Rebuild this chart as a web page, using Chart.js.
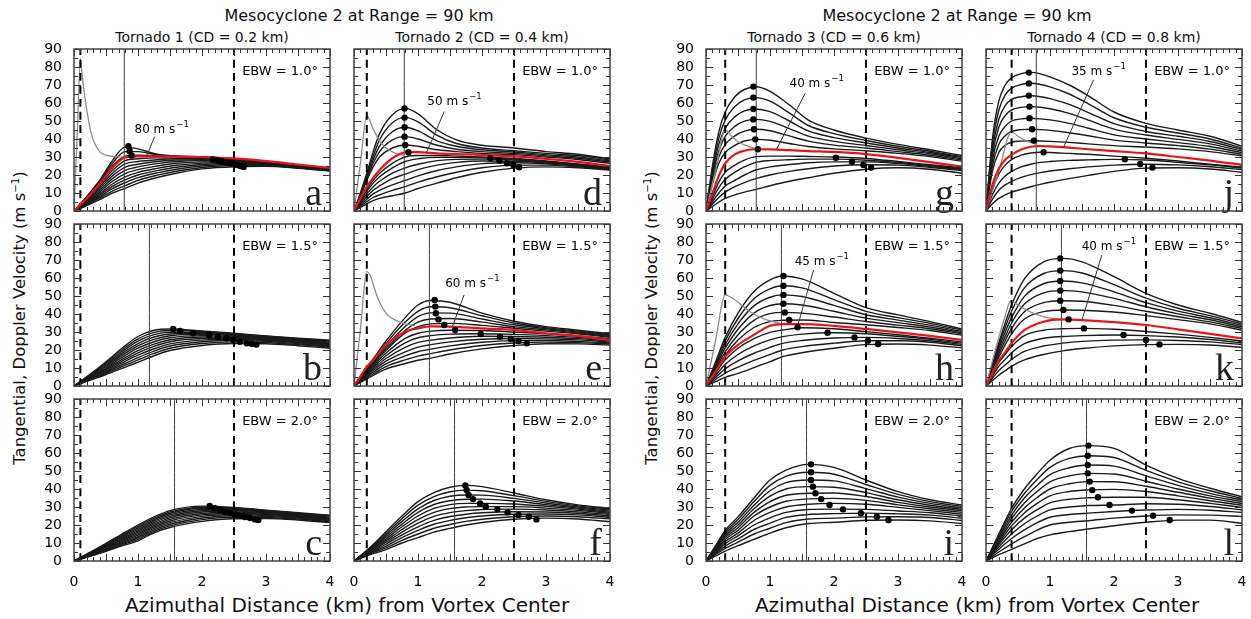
<!DOCTYPE html>
<html>
<head>
<meta charset="utf-8">
<title>Mesocyclone 2 at Range = 90 km</title>
<script src="https://cdn.jsdelivr.net/npm/chart.js@4.4.1/dist/chart.umd.min.js"></script>
<style>
  html, body { margin: 0; padding: 0; background: #fff; }
  #fig { position: relative; width: 1251px; height: 619px; overflow: hidden;
         font-family: 'DejaVu Sans', sans-serif; color: #111; }
  #fig canvas { position: absolute; }
  .t { position: absolute; white-space: nowrap; transform: translateX(-50%); }
  .main { font-size: 16px; line-height: 20px; top: 6px; }
  .sub { font-size: 14px; line-height: 16px; top: 29px; }
  .xlab { font-size: 20px; line-height: 22px; top: 594px; }
  .ylab { position: absolute; white-space: nowrap; font-size: 16.5px; line-height: 20px;
          transform: translate(-50%, -50%) rotate(-90deg); }
  sup { font-size: 0.62em; vertical-align: 0.55em; line-height: 0; }
</style>
</head>
<body>
<div id="fig">
  <div class="t main" style="left:359px">Mesocyclone 2 at Range = 90 km</div>
  <div class="t main" style="left:957px">Mesocyclone 2 at Range = 90 km</div>
  <div class="t sub" style="left:202px">Tornado 1 (CD = 0.2 km)</div>
  <div class="t sub" style="left:482px">Tornado 2 (CD = 0.4 km)</div>
  <div class="t sub" style="left:834px">Tornado 3 (CD = 0.6 km)</div>
  <div class="t sub" style="left:1114px">Tornado 4 (CD = 0.8 km)</div>
  <div class="t xlab" style="left:347px">Azimuthal Distance (km) from Vortex Center</div>
  <div class="t xlab" style="left:977px">Azimuthal Distance (km) from Vortex Center</div>
  <div class="ylab" style="left:20px;top:318px">Tangential, Doppler Velocity (m s<sup>−1</sup>)</div>
  <div class="ylab" style="left:652px;top:318px">Tangential, Doppler Velocity (m s<sup>−1</sup>)</div>
</div>

<script>
// ---------- axes / reference lines ----------
const xTicks = [0, 1, 2, 3, 4];
const yTicks = [0, 10, 20, 30, 40, 50, 60, 70, 80, 90];
const ebwLabels = ["EBW = 1.0°", "EBW = 1.5°", "EBW = 2.0°"];
const coreRadius = [0.1, 0.2, 0.3, 0.4];     // dashed line per tornado (CD / 2)
const mesoRadius = 2.5;                       // dashed line, mesocyclone core
const halfBeam = [0.785, 1.178, 1.571];       // solid line per beam width

// ---------- panel a : tornado 1, EBW 1.0 ----------
const xA = [0, 0.1, 0.2, 0.4, 0.6, 0.8, 1.0, 1.3, 1.6, 2.0, 2.5, 3.0, 3.5, 4.0];
const blackA = [
  [0, 4, 8, 17, 28, 35.5, 34.5, 31.5, 30.5, 30, 29, 27.5, 25.5, 23.5],
  [0, 4, 8, 16.5, 26.5, 33, 33, 31.3, 30.5, 30, 29, 27.5, 25.5, 23.5],
  [0, 3.5, 7.5, 16, 25, 30.5, 31, 30.8, 30.4, 30, 29, 27.5, 25.5, 23.5],
  [0, 3.3, 6.8, 14.5, 22.5, 28, 29, 29.5, 29.5, 29.5, 28.8, 27.5, 25.5, 23.5],
  [0, 3, 6.5, 13.5, 21, 26.2, 27.5, 28.5, 29, 29, 28.5, 27.3, 25.3, 23.3],
  [0, 2.8, 6, 12.5, 19.5, 24.4, 26, 27.5, 28.3, 28.5, 28.2, 27, 25.2, 23.2],
  [0, 2.6, 5.5, 11.5, 18, 22.6, 24.5, 26.3, 27.5, 28, 27.8, 26.8, 25, 23],
  [0, 2.4, 5, 10.5, 16.5, 20.8, 23, 25, 26.5, 27.3, 27.4, 26.6, 24.8, 23],
  [0, 2.2, 4.6, 9.5, 15, 19, 21.5, 23.7, 25.4, 26.6, 27, 26.3, 24.6, 22.8],
  [0, 2, 4.2, 8.7, 13.7, 17.3, 20, 22.4, 24.3, 25.8, 26.5, 26, 24.4, 22.7],
  [0, 1.8, 3.8, 7.9, 12.4, 15.7, 18.5, 21.2, 23.2, 25, 26, 25.7, 24.2, 22.5],
  [0, 1.6, 3.4, 7.1, 11.1, 14.1, 17, 19.9, 22.1, 24.2, 25.3, 25.3, 24, 22.4],
  [0, 1.4, 3, 6.3, 9.9, 12.6, 15.5, 18.6, 21, 23.4, 24.6, 24.8, 23.7, 22.2]
];
const redA = [0, 3.5, 7, 15, 24, 29.8, 30.3, 30.3, 30.2, 30, 29.2, 27.7, 25.8, 24];
const grayXA = [0, 0.05, 0.1, 0.13, 0.16, 0.2, 0.25, 0.3, 0.4, 0.5, 0.65, 0.8];
const grayA = [0, 42, 84.5, 75, 66, 56, 46, 39.5, 33, 31, 30.2, 30];
const dotXA = [0.85, 0.87, 0.9, 2.17, 2.25, 2.32, 2.39, 2.45, 2.5, 2.55, 2.6, 2.65];
const dotYA = [36, 33.3, 30.8, 28.7, 28.1, 27.5, 27, 26.5, 26, 25.5, 25, 24.5];

// ---------- panel b : tornado 1, EBW 1.5 ----------
const xB = [0, 0.25, 0.5, 0.75, 1.0, 1.25, 1.5, 2.0, 2.5, 3.0, 3.5, 4.0];
const blackB = [
  [0, 6.5, 13.5, 21, 27.5, 31, 31.7, 30.6, 29.3, 27.8, 26.5, 25.5],
  [0, 6.2, 12.8, 20, 26.2, 29.8, 30.8, 30.2, 29, 27.6, 26.3, 25.2],
  [0, 5.9, 12.1, 19, 24.9, 28.5, 29.9, 29.8, 28.7, 27.4, 26, 24.8],
  [0, 5.6, 11.4, 18, 23.6, 27.2, 28.9, 29.3, 28.4, 27.1, 25.7, 24.4],
  [0, 5.3, 10.7, 17, 22.3, 25.9, 27.9, 28.7, 28, 26.8, 25.4, 24],
  [0, 5, 10, 15.9, 21, 24.6, 26.8, 28, 27.6, 26.5, 25.1, 23.6],
  [0, 4.7, 9.4, 14.8, 19.7, 23.3, 25.7, 27.2, 27.1, 26.1, 24.8, 23.2],
  [0, 4.4, 8.8, 13.8, 18.4, 22, 24.6, 26.4, 26.6, 25.7, 24.4, 22.8],
  [0, 4.1, 8.2, 12.8, 17.1, 20.7, 23.4, 25.5, 26, 25.3, 24, 22.4],
  [0, 3.8, 7.6, 11.8, 15.8, 19.4, 22.2, 24.6, 25.3, 24.8, 23.5, 22],
  [0, 3.5, 7, 10.8, 14.5, 18.1, 21, 23.6, 24.5, 24.2, 23, 21.5],
  [0, 3.2, 6.4, 9.8, 13.2, 16.8, 19.7, 22.5, 23.6, 23.5, 22.4, 21]
];
const dotXB = [1.55, 1.66, 1.86, 2.11, 2.25, 2.38, 2.49, 2.59, 2.7, 2.78, 2.85];
const dotYB = [31.7, 30.6, 29.3, 28.3, 27.4, 26.5, 25.6, 24.6, 23.7, 23.3, 23];

// ---------- panel c : tornado 1, EBW 2.0 ----------
const xC = [0, 0.25, 0.5, 0.75, 1.0, 1.25, 1.5, 2.0, 2.5, 3.0, 3.5, 4.0];
const blackC = [
  [0, 4.8, 9.8, 15, 20, 24.5, 28, 30.5, 29.8, 28.2, 26.8, 25.5],
  [0, 4.6, 9.4, 14.4, 19.2, 23.7, 27.2, 29.9, 29.5, 28, 26.6, 25.2],
  [0, 4.4, 9, 13.8, 18.4, 22.9, 26.4, 29.3, 29.1, 27.7, 26.3, 24.9],
  [0, 4.2, 8.6, 13.2, 17.6, 22.1, 25.6, 28.6, 28.7, 27.4, 26, 24.6],
  [0, 4, 8.2, 12.6, 16.8, 21.3, 24.8, 27.9, 28.2, 27.1, 25.7, 24.3],
  [0, 3.8, 7.8, 12, 16, 20.5, 24, 27.2, 27.7, 26.7, 25.4, 23.9],
  [0, 3.6, 7.4, 11.4, 15.2, 19.7, 23.1, 26.4, 27.1, 26.3, 25, 23.5],
  [0, 3.4, 7, 10.8, 14.4, 18.9, 22.2, 25.6, 26.5, 25.8, 24.6, 23.1],
  [0, 3.2, 6.6, 10.2, 13.6, 18.1, 21.3, 24.8, 25.8, 25.3, 24.2, 22.7],
  [0, 3, 6.2, 9.6, 12.8, 17.3, 20.4, 23.9, 25.1, 24.8, 23.8, 22.3],
  [0, 2.8, 5.8, 9, 12, 16.5, 19.5, 23, 24.3, 24.2, 23.3, 21.8],
  [0, 2.6, 5.4, 8.4, 11.2, 15.7, 18.6, 22, 23.5, 23.6, 22.8, 21.3]
];
const dotXC = [2.12, 2.2, 2.28, 2.36, 2.44, 2.51, 2.59, 2.67, 2.75, 2.83, 2.88];
const dotYC = [30.6, 29.3, 28.3, 27.4, 26.7, 25.9, 25.2, 24.4, 23.9, 23.1, 22.8];

// ---------- panel d : tornado 2, EBW 1.0 ----------
const xD = [0, 0.1, 0.2, 0.3, 0.4, 0.6, 0.8, 1.0, 1.3, 1.6, 2.0, 2.5, 3.0, 3.5, 4.0];
const blackD = [
  [0, 10, 21, 33, 43, 53.5, 57, 54, 45, 39.5, 36.5, 35, 33, 31.5, 29],
  [0, 9.5, 20, 30.5, 39.5, 49, 52, 49.5, 42, 37.5, 35, 33.5, 32, 30.8, 28.4],
  [0, 9, 19, 28.5, 36, 44, 46.5, 44.5, 39, 36, 34, 32.8, 31.3, 30, 27.8],
  [0, 8.5, 18, 26.5, 33, 39.5, 41.3, 40, 36.5, 34.3, 33, 32, 30.6, 29.3, 27.2],
  [0, 8, 17, 24.5, 30, 35, 36.7, 36, 34, 33, 32, 31.3, 30, 28.6, 26.5],
  [0, 6.3, 12.2, 17, 21, 26.5, 30, 30.8, 30.8, 30.5, 30, 29.2, 27.8, 26.2, 24.5],
  [0, 5.5, 11, 15.5, 19, 24, 27.5, 29, 29.8, 29.8, 29.5, 28.8, 27.5, 25.9, 24.2],
  [0, 4.8, 9.5, 13.5, 16.5, 21, 24, 26, 28, 28.7, 28.8, 28.3, 27.2, 25.6, 23.8],
  [0, 4, 8, 11.5, 14, 18, 20.5, 23, 25.5, 27, 27.8, 27.6, 26.7, 25.3, 23.5],
  [0, 3.3, 6.5, 9.5, 11.5, 14.5, 17, 19.5, 22.5, 24.5, 26.3, 26.8, 26.2, 25, 23.2],
  [0, 2.6, 5.2, 7.5, 9, 11.5, 13.5, 16, 19, 21.5, 24, 25.5, 25.5, 24.5, 23],
  [0, 2, 4, 5.8, 7, 8.5, 10, 12.5, 15.5, 18.5, 21.5, 23.8, 24.5, 24, 22.8]
];
const redD = [0, 7, 13.5, 18.5, 22.8, 29.3, 32.6, 32.7, 32, 31.6, 31.2, 30.3, 29, 27.3, 25];
const grayXD = [0, 0.1, 0.2, 0.25, 0.3, 0.4, 0.5, 0.65, 0.8];
const grayD = [0, 26.5, 53, 50, 45.5, 39, 35, 32, 30.8];
const dotXD = [0.79, 0.79, 0.79, 0.79, 0.8, 0.85, 2.13, 2.27, 2.39, 2.49, 2.58];
const dotYD = [57, 51.9, 46.5, 41.3, 36.7, 32.6, 29.3, 28, 26.5, 25.6, 24.3];

// ---------- panel e : tornado 2, EBW 1.5 ----------
const xE = [0, 0.1, 0.2, 0.3, 0.5, 0.8, 1.0, 1.2, 1.5, 2.0, 2.5, 3.0, 3.5, 4.0];
const blackE = [
  [0, 5, 10, 15, 25, 38, 45, 47.5, 46.5, 40.5, 36, 33, 31, 29],
  [0, 4.7, 9.5, 14.2, 23.5, 35.5, 41.5, 44, 43.5, 39, 35, 32.4, 30.5, 28.5],
  [0, 4.5, 9, 13.5, 22, 33, 38.5, 40.6, 40.5, 37.2, 34, 31.8, 30, 28],
  [0, 4.3, 8.6, 12.8, 20.8, 31, 35.5, 37.2, 37.5, 35.5, 33, 31.2, 29.5, 27.5],
  [0, 4.1, 8.2, 12.2, 19.8, 29.5, 33, 34.5, 34.8, 33.7, 32.1, 30.5, 29, 27],
  [0, 3.8, 7.6, 11.3, 18.3, 26.5, 29.3, 30.5, 31, 30.8, 30, 29, 27.8, 26.3],
  [0, 3.5, 7, 10.4, 16.8, 24, 26.8, 28, 28.8, 29, 28.7, 28, 27, 25.7],
  [0, 3.2, 6.4, 9.5, 15.3, 21.5, 24.2, 25.5, 26.7, 27.6, 27.5, 27.1, 26.3, 25.1],
  [0, 2.9, 5.8, 8.6, 13.8, 19, 21.6, 23, 24.5, 26, 26.4, 26.2, 25.6, 24.5],
  [0, 2.6, 5.2, 7.7, 12.3, 16.7, 19, 20.5, 22.3, 24.3, 25.2, 25.3, 24.8, 23.9],
  [0, 2.3, 4.6, 6.8, 10.8, 14.5, 16.6, 18, 20, 22.5, 23.9, 24.4, 24.1, 23.3],
  [0, 2, 4, 5.9, 9.4, 12.5, 14.3, 15.5, 17.8, 20.6, 22.5, 23.5, 23.4, 22.7]
];
const redE = [0, 5.3, 10.7, 14.5, 22.8, 30.2, 32, 33.1, 33, 32, 31.1, 29.3, 27.8, 25.6];
const grayXE = [0, 0.1, 0.2, 0.27, 0.32, 0.4, 0.5, 0.6, 0.75, 0.95];
const grayE = [0, 31.5, 63.5, 60, 54, 46.5, 40.5, 37.5, 35, 33.5];
const dotXE = [1.26, 1.27, 1.28, 1.32, 1.41, 1.58, 1.98, 2.28, 2.45, 2.57, 2.7];
const dotYE = [47.8, 44.1, 40.4, 37, 33.9, 31.1, 28.9, 27.4, 26.1, 25, 23.7];

// ---------- panel f : tornado 2, EBW 2.0 ----------
const xF = [0, 0.25, 0.5, 0.75, 1.0, 1.25, 1.5, 1.75, 2.0, 2.5, 3.0, 3.5, 4.0];
const blackF = [
  [0, 7.5, 16.3, 25, 33, 38, 41, 42, 41.3, 37.8, 34, 31.2, 29.3],
  [0, 7.1, 15.3, 23.5, 31, 35.8, 38.5, 39.4, 39, 36.3, 33.1, 30.6, 28.8],
  [0, 6.7, 14.3, 22, 29, 33.6, 36, 36.7, 36.6, 34.8, 32.2, 30, 28.3],
  [0, 6.3, 13.3, 20.5, 27, 31.4, 33.5, 34.3, 34.4, 33.3, 31.3, 29.4, 27.7],
  [0, 5.9, 12.3, 19, 25, 29.2, 31.3, 32, 32, 31.7, 30.4, 28.8, 27.1],
  [0, 5.5, 11.3, 17.5, 23, 27, 29.1, 30, 30.2, 30.2, 29.4, 28.1, 26.5],
  [0, 5.1, 10.3, 16, 21, 24.8, 26.9, 28, 28.6, 28.8, 28.3, 27.3, 25.8],
  [0, 4.7, 9.3, 14.5, 19, 22.6, 24.7, 26, 26.8, 27.4, 27.2, 26.5, 25],
  [0, 4.3, 8.3, 13, 17, 20.4, 22.5, 24, 25, 26, 26.1, 25.6, 24.2],
  [0, 3.9, 7.3, 11.5, 15, 18.2, 20.3, 22, 23.2, 24.6, 25, 24.6, 23.4],
  [0, 3.5, 6.3, 10, 13, 16, 18.1, 20, 21.4, 23.2, 23.8, 23.3, 21.8]
];
const dotXF = [1.74, 1.76, 1.79, 1.86, 1.97, 2.06, 2.24, 2.4, 2.57, 2.73, 2.85];
const dotYF = [42, 39.4, 36.7, 34.4, 32, 30.2, 28.7, 27, 25.6, 24.6, 23.1];

// ---------- panel g : tornado 3, EBW 1.0 ----------
const xG = [0, 0.1, 0.2, 0.3, 0.45, 0.6, 0.78, 1.0, 1.3, 1.6, 2.0, 2.5, 3.0, 3.5, 4.0];
const blackG = [
  [0, 25, 44, 55, 63.5, 67.5, 69, 66.5, 59, 50.5, 45, 40.5, 37, 34, 30.8],
  [0, 23, 40.5, 50.5, 58, 61.7, 63, 61, 54.5, 47.5, 43, 39.2, 36, 33.2, 30.2],
  [0, 21, 37, 46, 52.3, 55.6, 56.7, 55.2, 50, 44.5, 40.8, 37.8, 35, 32.5, 29.6],
  [0, 19, 33.5, 41.5, 47, 49.9, 50.9, 49.8, 45.8, 41.6, 38.7, 36.4, 34, 31.8, 29],
  [0, 17, 30, 37, 41.7, 44.4, 45.4, 44.6, 41.7, 38.8, 36.6, 35, 33, 31, 28.3],
  [0, 15, 26.5, 32.5, 36.5, 38.9, 39.8, 39.3, 37.5, 35.8, 34.5, 33.5, 32, 30.2, 27.7],
  [0, 8, 16, 21.5, 25.5, 28.3, 30.2, 30.5, 30.5, 30.3, 30, 29.2, 27.5, 25.7, 24],
  [0, 6.5, 13, 17.5, 21.5, 24.5, 27, 28, 28.5, 28.8, 28.8, 28.2, 27, 25.2, 23.5],
  [0, 5, 10, 13.8, 17, 20, 22.8, 24.5, 25.8, 26.8, 27.3, 27.3, 26.4, 24.8, 23],
  [0, 3.8, 7.5, 10.5, 13.5, 15.8, 18, 20, 22, 23.5, 25, 25.7, 25.5, 24.2, 22.5],
  [0, 2.5, 5, 7, 9, 10.5, 12, 14, 16.5, 18.5, 21, 23.2, 24, 23.2, 21]
];
const redG = [0, 9.8, 19.5, 26.5, 31.5, 33.5, 34.3, 34.2, 33.8, 33.3, 32.8, 31.6, 29.5, 27.2, 24.6];
const grayXG = [0, 0.15, 0.3, 0.4, 0.5, 0.65, 0.8];
const grayG = [0, 22.5, 45, 41.5, 38.5, 36, 34.5];
const dotXG = [0.74, 0.74, 0.74, 0.74, 0.75, 0.77, 0.81, 2.03, 2.28, 2.46, 2.58];
const dotYG = [69.1, 63, 56.7, 50.9, 45.4, 39.8, 34.3, 29.6, 27.4, 25.6, 24.1];

// ---------- panel h : tornado 3, EBW 1.5 ----------
const xH = [0, 0.15, 0.3, 0.5, 0.75, 1.0, 1.2, 1.5, 2.0, 2.5, 3.0, 3.5, 4.0];
const blackH = [
  [0, 13.5, 27, 40.5, 52.5, 59, 61.1, 59.5, 51.5, 43.5, 39.5, 35.8, 31.7],
  [0, 12.5, 25, 37.5, 48.5, 54, 55.7, 54.5, 48, 41.5, 38, 34.8, 31],
  [0, 11.5, 23, 34.5, 44.5, 49.3, 50.6, 49.7, 44.8, 39.6, 36.6, 33.8, 30.3],
  [0, 10.5, 21, 31.5, 40.5, 44.7, 45.7, 45, 41.5, 37.7, 35.2, 32.8, 29.6],
  [0, 9.5, 19, 28.5, 36.5, 40.2, 40.9, 40.5, 38.3, 35.8, 33.8, 31.8, 28.9],
  [0, 8.5, 17, 25.5, 32.5, 35.8, 36.5, 36.7, 35.3, 34, 32.5, 30.8, 28.2],
  [0, 7.2, 14.5, 21, 26.3, 29.8, 31.1, 32.4, 31.8, 30.2, 28.5, 26.5, 24.5],
  [0, 6, 12, 17.5, 22.3, 25.6, 27.4, 28.8, 29.6, 29, 27.6, 25.9, 23.8],
  [0, 4.8, 9.6, 14, 18.2, 21.5, 23.7, 25.3, 26.7, 27, 26.4, 25.1, 23.1],
  [0, 3.6, 7.2, 10.5, 14.2, 17.5, 20, 21.9, 23.8, 25.1, 25.1, 24.3, 22.4],
  [0, 2.4, 4.8, 7, 10.2, 13.5, 16.3, 18.5, 21, 23, 23.3, 22.7, 21.2]
];
const redH = [0, 8, 16.3, 22.8, 28.5, 33.5, 34.4, 34.4, 33.4, 31.7, 29.8, 27.8, 25.6];
const grayXH = [0, 0.15, 0.3, 0.4, 0.5, 0.7, 0.95, 1.15];
const grayH = [0, 25.3, 50.6, 49, 46.5, 41, 36.7, 34.8];
const dotXH = [1.21, 1.21, 1.21, 1.21, 1.23, 1.3, 1.43, 1.9, 2.32, 2.53, 2.69];
const dotYH = [61.1, 55.7, 50.6, 45.7, 40.9, 36.7, 32.6, 29.6, 27, 25.2, 23.3];

// ---------- panel i : tornado 3, EBW 2.0 ----------
const xI = [0, 0.15, 0.3, 0.5, 0.75, 1.0, 1.25, 1.6, 2.0, 2.5, 3.0, 3.5, 4.0];
const blackI = [
  [0, 8.5, 17, 24.5, 35, 45, 50.5, 53.7, 52, 45, 38.5, 34, 31.1],
  [0, 8, 16, 23, 33, 42, 47, 49.3, 48.2, 42.5, 37, 33, 30.3],
  [0, 7.5, 15, 21.5, 31, 39, 43.5, 45, 44.5, 40.2, 35.5, 32, 29.5],
  [0, 7, 14, 20, 29, 36, 40, 41.3, 41, 38, 34, 31, 28.7],
  [0, 6.5, 13, 18.5, 27, 33, 36.5, 37.6, 37.8, 35.8, 32.6, 30, 27.9],
  [0, 6, 12, 17, 25, 30, 33.2, 34.5, 34.8, 33.7, 31.2, 29, 27],
  [0, 5.4, 10.8, 15.5, 22.5, 27, 30, 31.5, 32, 31.5, 29.8, 28, 26],
  [0, 4.8, 9.6, 14, 20, 24, 27, 28.6, 28.8, 28.7, 27.8, 26.8, 25],
  [0, 4.2, 8.3, 12.3, 17.5, 21, 24.2, 25.8, 26.3, 26.6, 26.2, 25.5, 23.8],
  [0, 3.5, 7, 10.5, 15, 18.2, 21.3, 23.3, 23.8, 24.5, 24.6, 24.2, 22.5],
  [0, 2.8, 5.5, 8.5, 12, 15.5, 18.5, 20.8, 21.5, 22.6, 22.8, 22.3, 20.8]
];
const dotXI = [1.64, 1.64, 1.64, 1.67, 1.71, 1.8, 1.93, 2.14, 2.42, 2.67, 2.85];
const dotYI = [53.7, 49.3, 45, 41.3, 37.6, 34.4, 31.1, 28.7, 26.5, 24.6, 22.8];

// ---------- panel j : tornado 4, EBW 1.0 ----------
const xJ = [0, 0.1, 0.2, 0.3, 0.4, 0.55, 0.7, 0.85, 1.0, 1.3, 1.6, 2.0, 2.5, 3.0, 3.5, 4.0];
const blackJ = [
  [0, 40, 61, 70, 74, 76.3, 77, 76.2, 74.5, 70, 64, 55, 48.7, 45, 41.5, 36],
  [0, 37, 56, 64.5, 68.3, 70.3, 71, 70.3, 69, 65, 59.5, 51.8, 46.5, 43.3, 40, 35],
  [0, 34, 51, 58.5, 62, 63.5, 64, 63.5, 62.4, 59.2, 54.7, 48.5, 44.2, 41.5, 38.6, 34.2],
  [0, 31, 46.5, 53, 56.2, 57.6, 58, 57.6, 56.8, 54.2, 50.5, 45.5, 42.2, 39.8, 37.3, 33.3],
  [0, 28, 41.5, 47, 50, 51.2, 51.5, 51.2, 50.6, 48.7, 46, 42.3, 40, 38, 35.8, 32.4],
  [0, 25, 37, 41.8, 44.2, 45.2, 45.4, 45.2, 44.8, 43.5, 41.8, 39.4, 37.8, 36.3, 34.4, 31.5],
  [0, 22, 32.5, 36.5, 38.2, 38.8, 39, 38.9, 38.7, 38.1, 37.3, 36.3, 35.5, 34.5, 33, 30.6],
  [0, 12, 20.5, 25.5, 28.5, 31, 32.2, 32.6, 32.5, 32, 31.5, 30.5, 29.3, 27.8, 26, 24.3],
  [0, 9, 15.5, 19.5, 22, 24.5, 26, 27, 27.5, 28.1, 28.4, 28.7, 28.3, 27, 25.6, 23.8],
  [0, 6.5, 11.5, 14.5, 16.5, 18.7, 20.2, 21.3, 22.2, 23.5, 24.5, 25.5, 26, 25.6, 24.6, 23],
  [0, 4, 7, 9, 10.5, 12, 13.5, 14.8, 16, 18, 19.8, 22, 23.8, 24, 23.3, 21.5]
];
const redJ = [0, 14.5, 23.5, 28.5, 31.2, 34.2, 35.7, 36.1, 35.9, 35.2, 34.3, 33.3, 32, 30, 28, 25.6];
const grayXJ = [0, 0.2, 0.4, 0.5, 0.6, 0.7, 0.8];
const grayJ = [0, 22, 44, 41.5, 39.5, 38, 37];
const dotXJ = [0.67, 0.67, 0.67, 0.68, 0.68, 0.72, 0.75, 0.9, 2.17, 2.41, 2.6];
const dotYJ = [76.9, 70.9, 64.1, 58, 51.5, 45.4, 39.1, 32.6, 28.7, 26.1, 24.1];

// ---------- panel k : tornado 4, EBW 1.5 ----------
const xK = [0, 0.1, 0.2, 0.3, 0.4, 0.6, 0.9, 1.2, 1.5, 2.0, 2.5, 3.0, 3.5, 4.0];
const blackK = [
  [0, 12, 24, 35, 45, 59.5, 69, 70.9, 69, 60.7, 51.5, 45, 40.4, 35.4],
  [0, 11.2, 22.4, 32.5, 41.5, 54.5, 62.5, 64.1, 62.8, 56.3, 48.8, 43.2, 39.1, 34.5],
  [0, 10.4, 20.8, 30, 38, 49.8, 56.8, 58.3, 57.3, 52.3, 46.3, 41.6, 37.9, 33.6],
  [0, 9.6, 19.2, 27.5, 35, 45.5, 51.7, 53, 52.3, 48.7, 44, 40.1, 36.8, 32.8],
  [0, 8.8, 17.6, 25.3, 32, 41.2, 46.3, 47.4, 47.1, 44.8, 41.5, 38.5, 35.6, 31.9],
  [0, 8, 16, 23, 29, 37.2, 41.3, 42.2, 42.1, 41.1, 39.1, 36.9, 34.5, 31],
  [0, 6.5, 13, 17.5, 22, 28, 31, 31.8, 32, 31.5, 30.3, 28.8, 27, 25],
  [0, 5.5, 11, 14.7, 18.5, 23.5, 26.5, 27.5, 28, 28.3, 28, 27.2, 25.8, 24],
  [0, 4.3, 8.6, 11.7, 14.7, 19.2, 22.2, 23.8, 24.8, 25.5, 25.6, 25.3, 24.5, 23],
  [0, 3, 6, 8.5, 11, 14.5, 17.5, 19.5, 20.8, 22.3, 23, 23.1, 22.8, 21.5]
];
const redK = [0, 7, 14, 18.8, 23.8, 31, 35.7, 37, 36.6, 35.5, 33.9, 31.5, 29, 26.5];
const grayXK = [0, 0.1, 0.2, 0.3, 0.38, 0.5, 0.7, 0.9, 1.15];
const grayK = [0, 14, 27, 39, 47, 45, 41, 38.5, 37];
const dotXK = [1.16, 1.16, 1.16, 1.16, 1.16, 1.21, 1.29, 1.53, 2.15, 2.5, 2.71];
const dotYK = [70.9, 64.1, 58.3, 53, 47.4, 42.2, 37, 32, 28.3, 25.6, 23.1];

// ---------- panel l : tornado 4, EBW 2.0 ----------
const xL = [0, 0.2, 0.4, 0.6, 0.8, 1.0, 1.3, 1.6, 2.0, 2.5, 3.0, 3.5, 4.0];
const blackL = [
  [0, 15, 29.3, 40, 48.5, 56, 62.5, 64.1, 62.6, 53.3, 45.9, 40.4, 35.7],
  [0, 14, 27.5, 37.5, 45.3, 52, 57, 58.5, 57.5, 50.3, 44, 39, 34.8],
  [0, 13, 25.5, 35, 42, 48, 51.8, 53.3, 52.7, 47.3, 42, 37.6, 33.9],
  [0, 12, 23.5, 32.2, 38.6, 44, 47.3, 48.7, 48.3, 44.3, 40, 36.2, 33],
  [0, 11, 21.5, 29.5, 35.3, 40, 42.9, 44.1, 44, 41.5, 38.2, 34.9, 32],
  [0, 10, 19.5, 26.7, 32, 36.2, 38.6, 39.5, 39.8, 38.6, 36.2, 33.5, 31],
  [0, 9, 17.3, 23.8, 28.5, 32.3, 34.3, 35.1, 35.4, 35.4, 34, 32, 29.8],
  [0, 7.8, 15, 20.7, 25, 28.4, 30, 30.8, 31.1, 31.8, 31.5, 30.3, 28.5],
  [0, 6.5, 12.5, 17.3, 21.3, 24.3, 25.8, 26.6, 27.5, 28.3, 28.7, 28.2, 27],
  [0, 5, 9.5, 13.5, 17.2, 20, 21.5, 22.4, 23.8, 25, 25.6, 25.5, 24.7],
  [0, 3.5, 6.5, 9.5, 12.5, 14.5, 16.3, 17.8, 19.6, 21.5, 22.7, 22.7, 21]
];
const dotXL = [1.6, 1.59, 1.59, 1.59, 1.62, 1.66, 1.75, 1.93, 2.28, 2.61, 2.87];
const dotYL = [64.1, 58.5, 53.3, 48.7, 44.1, 39.4, 35.4, 31.1, 28, 25.2, 22.8];

// ---------- layout ----------
const colLeft = [74, 354, 706, 986];
const rowTop = [49, 224, 399];
const PLOT_W = 256, PLOT_H = 162, PAD_T = 10, PAD_R = 8;

const panels = [
  { letter: 'a', col: 0, row: 0, x: xA, black: blackA, red: redA, grayX: grayXA, gray: grayA, dotX: dotXA, dotY: dotYA,
    note: { text: '80', at: [1.37, 45], from: [1.26, 41.3], to: [1.13, 30.2] } },
  { letter: 'b', col: 0, row: 1, x: xB, black: blackB, dotX: dotXB, dotY: dotYB },
  { letter: 'c', col: 0, row: 2, x: xC, black: blackC, dotX: dotXC, dotY: dotYC },
  { letter: 'd', col: 1, row: 0, x: xD, black: blackD, red: redD, grayX: grayXD, gray: grayD, dotX: dotXD, dotY: dotYD,
    note: { text: '50', at: [1.57, 60.7], from: [1.41, 55.2], to: [1.13, 32.2] } },
  { letter: 'e', col: 1, row: 1, x: xE, black: blackE, red: redE, grayX: grayXE, gray: grayE, dotX: dotXE, dotY: dotYE,
    note: { text: '60', at: [1.85, 57], from: [1.72, 50.6], to: [1.54, 33.2] } },
  { letter: 'f', col: 1, row: 2, x: xF, black: blackF, dotX: dotXF, dotY: dotYF },
  { letter: 'g', col: 2, row: 0, x: xG, black: blackG, red: redG, grayX: grayXG, gray: grayG, dotX: dotXG, dotY: dotYG,
    note: { text: '40', at: [1.73, 70.9], from: [1.55, 65.4], to: [1.1, 34.2] } },
  { letter: 'h', col: 2, row: 1, x: xH, black: blackH, red: redH, grayX: grayXH, gray: grayH, dotX: dotXH, dotY: dotYH,
    note: { text: '45', at: [1.81, 69], from: [1.68, 64.4], to: [1.44, 34.4] } },
  { letter: 'i', col: 2, row: 2, x: xI, black: blackI, dotX: dotXI, dotY: dotYI },
  { letter: 'j', col: 3, row: 0, x: xJ, black: blackJ, red: redJ, grayX: grayXJ, gray: grayJ, dotX: dotXJ, dotY: dotYJ,
    note: { text: '35', at: [1.76, 77.4], from: [1.68, 72.8], to: [1.21, 35.2] } },
  { letter: 'k', col: 3, row: 1, x: xK, black: blackK, red: redK, grayX: grayXK, gray: grayK, dotX: dotXK, dotY: dotYK,
    note: { text: '40', at: [1.92, 77.4], from: [1.81, 72.8], to: [1.5, 36.7] } },
  { letter: 'l', col: 3, row: 2, x: xL, black: blackL, dotX: dotXL, dotY: dotYL }
];

Chart.defaults.font.family = "'DejaVu Sans', sans-serif";
Chart.defaults.color = '#000';

const pts = (xs, ys) => xs.map((x, i) => ({ x, y: ys[i] }));
const vline = v => [{ x: v, y: 0 }, { x: v, y: 90 }];

// frame, inner ticks, EBW text, panel letter and the speed label
function framePlugin(p) {
  return {
    id: 'frame' + p.letter,
    afterDatasetsDraw(chart) {
      const { ctx, chartArea: a, scales: { x, y } } = chart;
      ctx.save();
      if (p.note) {
        ctx.strokeStyle = '#333';
        ctx.lineWidth = 1;
        ctx.beginPath();
        ctx.moveTo(x.getPixelForValue(p.note.from[0]), y.getPixelForValue(p.note.from[1]));
        ctx.lineTo(x.getPixelForValue(p.note.to[0]), y.getPixelForValue(p.note.to[1]));
        ctx.stroke();
        const main = p.note.text + ' m s';
        ctx.font = "12px 'DejaVu Sans'";
        const w1 = ctx.measureText(main).width;
        ctx.font = "8.5px 'DejaVu Sans'";
        const w2 = ctx.measureText('−1').width;
        const cx = x.getPixelForValue(p.note.at[0]), cy = y.getPixelForValue(p.note.at[1]);
        const left = cx - (w1 + w2 + 1) / 2;
        ctx.fillStyle = '#000';
        ctx.textAlign = 'left';
        ctx.textBaseline = 'middle';
        ctx.font = "12px 'DejaVu Sans'";
        ctx.fillText(main, left, cy);
        ctx.font = "8.5px 'DejaVu Sans'";
        ctx.fillText('−1', left + w1 + 1, cy - 5);
      }

      ctx.fillStyle = '#000';
      ctx.textAlign = 'right';
      ctx.textBaseline = 'alphabetic';
      ctx.font = "13px 'DejaVu Sans'";
      ctx.fillText(ebwLabels[p.row], a.right - 12, a.top + 26);
      ctx.font = "38px 'Liberation Serif'";
      ctx.fillStyle = '#222';
      ctx.fillText(p.letter, a.right - 8, a.bottom - 6);

      // inward ticks
      ctx.strokeStyle = '#333';
      ctx.lineWidth = 1;
      ctx.beginPath();
      for (let i = 0; i <= 40; i++) {
        const px = Math.round(x.getPixelForValue(i / 10)) + 0.5;
        const len = i % 5 === 0 ? 7 : 4;
        ctx.moveTo(px, a.top); ctx.lineTo(px, a.top + len);
        ctx.moveTo(px, a.bottom); ctx.lineTo(px, a.bottom - len);
      }
      for (let v = 0; v <= 90; v += 5) {
        const py = Math.round(y.getPixelForValue(v)) + 0.5;
        const len = v % 10 === 0 ? 7 : 4;
        ctx.moveTo(a.left, py); ctx.lineTo(a.left + len, py);
        ctx.moveTo(a.right, py); ctx.lineTo(a.right - len, py);
      }
      ctx.stroke();

      ctx.strokeStyle = '#444';
      ctx.lineWidth = 1.5;
      ctx.strokeRect(a.left, a.top, a.right - a.left, a.bottom - a.top);
      ctx.restore();
    }
  };
}

const fig = document.getElementById('fig');

panels.forEach(p => {
  const yw = p.col % 2 === 0 ? 44 : 12;
  const xh = p.row === 2 ? 30 : 8;
  const cv = document.createElement('canvas');
  cv.width = yw + PLOT_W + PAD_R;
  cv.height = PAD_T + PLOT_H + xh;
  cv.style.left = (colLeft[p.col] - yw) + 'px';
  cv.style.top = (rowTop[p.row] - PAD_T) + 'px';
  fig.appendChild(cv);

  const datasets = [];
  p.black.forEach(ys => datasets.push({
    data: pts(p.x, ys), showLine: true, borderColor: '#1a1a1a', borderWidth: 1.4, order: 5
  }));
  datasets.push({ data: vline(halfBeam[p.row]), showLine: true, borderColor: '#3a3a3a', borderWidth: 1, order: 4 });
  if (p.gray) datasets.push({ data: pts(p.grayX, p.gray), showLine: true, borderColor: '#8c8c8c', borderWidth: 1.3, order: 3 });
  datasets.push({ data: vline(coreRadius[p.col]), showLine: true, borderColor: '#000', borderWidth: 2, borderDash: [8, 5], order: 2 });
  datasets.push({ data: vline(mesoRadius), showLine: true, borderColor: '#000', borderWidth: 2, borderDash: [8, 5], order: 2 });
  if (p.red) datasets.push({ data: pts(p.x, p.red), showLine: true, borderColor: '#e8141b', borderWidth: 2.2, order: 1 });
  datasets.push({
    data: pts(p.dotX, p.dotY), showLine: false, pointRadius: 3.2,
    pointBackgroundColor: '#000', pointBorderWidth: 0, order: 0
  });

  new Chart(cv, {
    type: 'scatter',
    data: { datasets },
    options: {
      responsive: false,
      animation: false,
      events: [],
      layout: { padding: { top: PAD_T, right: PAD_R, left: 0, bottom: 0 }, autoPadding: false },
      plugins: { legend: { display: false }, tooltip: { enabled: false } },
      elements: {
        line: { cubicInterpolationMode: 'monotone', fill: false },
        point: { radius: 0 }
      },
      scales: {
        x: {
          type: 'linear', min: 0, max: 4,
          afterBuildTicks: s => { s.ticks = xTicks.map(v => ({ value: v })); },
          ticks: { display: p.row === 2, autoSkip: false, maxRotation: 0, padding: 13, font: { size: 14 }, color: '#000' },
          grid: { display: false, drawTicks: false },
          border: { display: false },
          afterFit: s => { s.height = xh; s.paddingLeft = 0; s.paddingRight = 0; }
        },
        y: {
          type: 'linear', min: 0, max: 90,
          afterBuildTicks: s => { s.ticks = yTicks.map(v => ({ value: v })); },
          ticks: { display: p.col % 2 === 0, autoSkip: false, padding: 12, font: { size: 14 }, color: '#000' },
          grid: { display: false, drawTicks: false },
          border: { display: false },
          afterFit: s => { s.width = yw; s.paddingTop = 0; s.paddingBottom = 0; }
        }
      }
    },
    plugins: [framePlugin(p)]
  });
});
</script>
</body>
</html>
